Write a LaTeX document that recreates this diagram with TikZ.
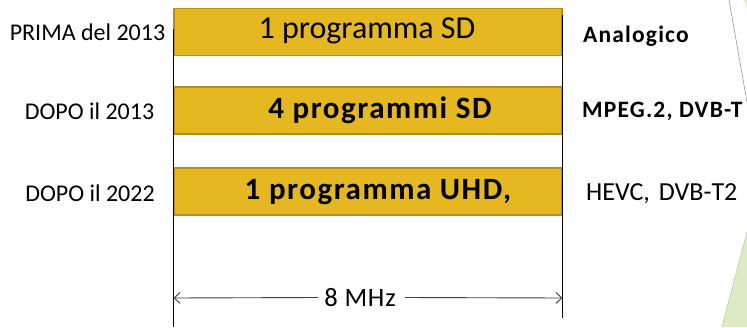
\documentclass[tikz,border=0pt]{standalone}
\usepackage{fontspec}
\setmainfont{Carlito}
\usetikzlibrary{arrows.meta}
\definecolor{bandfill}{HTML}{E5B822}
\definecolor{bandedge}{HTML}{B38E1C}
\definecolor{leafgreen}{HTML}{DCEBC4}
\definecolor{leafedge}{HTML}{B9CF98}
\begin{document}
\begin{tikzpicture}[x=1pt,y=-1pt,
  band/.style={draw=bandedge,fill=bandfill,line width=1.4pt,minimum width=388pt,minimum height=47pt,inner sep=0pt},
  yearlabel/.style={font=\fontsize{24}{26}\selectfont,anchor=center,inner sep=0pt},
  bandtext/.style={font=\fontsize{32}{34}\selectfont,inner sep=0pt},
  bandbold/.style={font=\fontsize{31}{33}\selectfont\bfseries\addfontfeatures{LetterSpace=5},inner sep=0pt},
  codec/.style={font=\fontsize{26}{28}\selectfont,anchor=west,inner sep=0pt},
  codecbold/.style={font=\fontsize{23.5}{25}\selectfont\bfseries\addfontfeatures{LetterSpace=5},anchor=west,inner sep=0pt},
  edge/.style={line width=1.1pt,black},
  dimline/.style={line width=0.9pt,draw=black!75,arrows={-{Straight Barb[length=6pt,width=11pt,line width=0.9pt]}}}
]
\useasboundingbox (0,0) rectangle (747,327);

% slide decoration at the right margin
\fill[leafgreen] (722,327) -- (747,232) -- (747,327) -- cycle;
\draw[leafedge,line width=0.6pt] (722,327) -- (747,232);
\fill[leafgreen] (744,0) -- (747,0) -- (747,9) -- cycle;
\draw[black!40,line width=0.6pt] (729,0) -- (747,102);

% frequency bands
\node[band] (b1) at (368,32) {};
\node[band] (b2) at (368,110.5) {};
\node[band] (b3) at (368,191.5) {};

% channel edges
\coordinate (ltop) at (173.5,29);
\coordinate (lbot) at (173.5,327);
\coordinate (rtop) at (562.5,15);
\coordinate (rbot) at (562.5,318);
\draw[edge] (ltop) -- (lbot);
\draw[edge] (rtop) -- (rbot);

% band contents
\node[bandtext] (t1) at (367,31) {1 programma SD};
\node[bandbold] (t2) at (380,110) {4 programmi SD};
\node[bandbold] (t3) at (378,192) {1 programma UHD,};

% periods
\node[yearlabel] (y1) at (87.5,32) {PRIMA del 2013};
\node[yearlabel] (y2) at (89.5,111) {DOPO il 2013};
\node[yearlabel] (y3) at (90,193) {DOPO il 2022};

% coding / standard
\node[codecbold] (c1) at (583,36) {Analogico};
\node[codecbold] (c2) at (582,111) {MPEG.2, DVB-T};
\node[codec] (c3) at (586,194) {HEVC,\hspace{0.35em}DVB-T2};

% channel width
\coordinate (al) at (173.5,298);
\coordinate (ar) at (562.5,298);
\node[font=\fontsize{26.5}{28}\selectfont\addfontfeatures{LetterSpace=3},inner sep=0pt] (bw) at (360,297.5) {8 MHz};
\draw[dimline] ([xshift=-6pt]bw.west) -- (al);
\draw[dimline] ([xshift=9pt]bw.east) -- (ar);
\end{tikzpicture}
\end{document}
